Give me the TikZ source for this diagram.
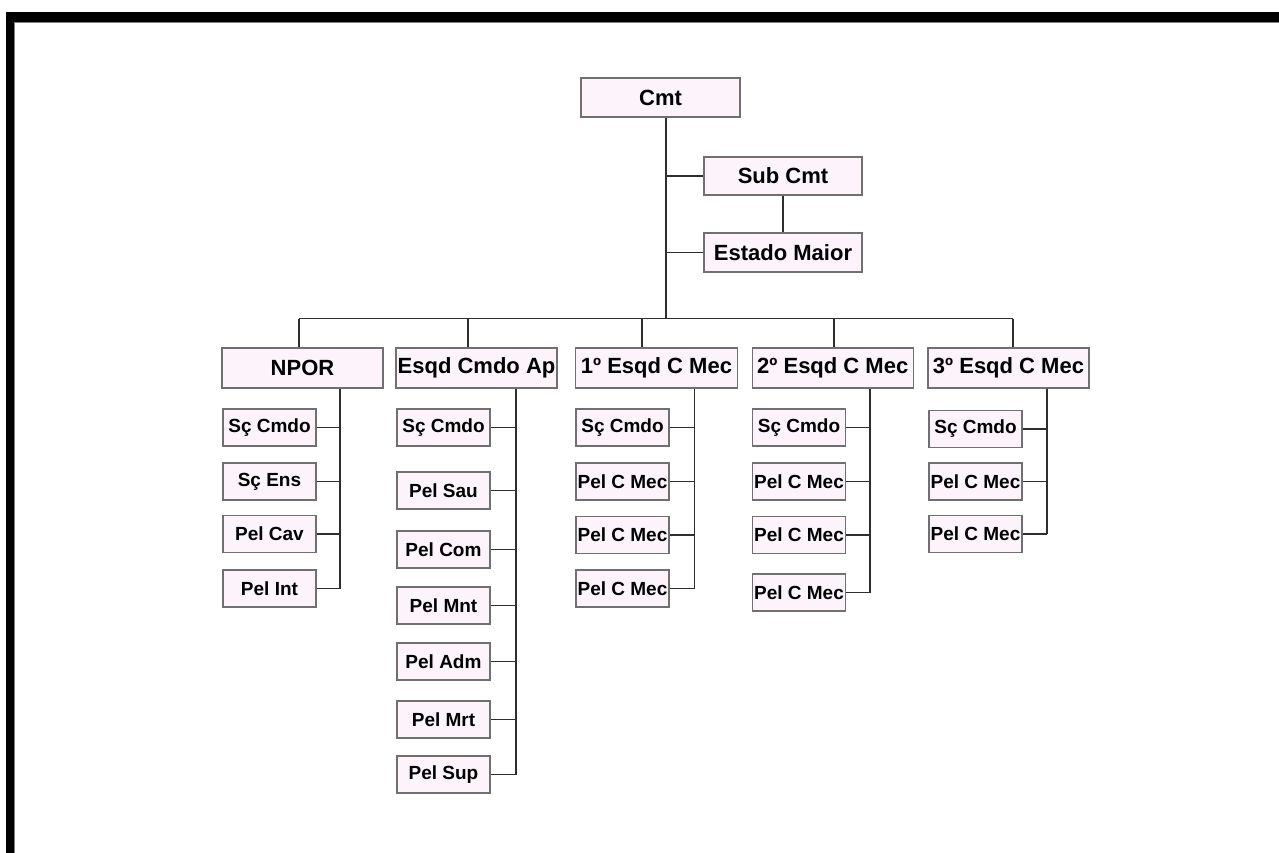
\documentclass[tikz,border=0pt]{standalone}
\usepackage{fontspec}
\setmainfont{Liberation Sans}
\definecolor{boxfill}{HTML}{FDF4FB}
\definecolor{boxline}{HTML}{707070}
\definecolor{linkcol}{HTML}{2E2E2E}
\tikzset{
  topbox/.style={draw=boxline, fill=boxfill, line width=1.3pt, minimum height=39pt,
    inner sep=0pt, font=\fontsize{22}{26}\selectfont\bfseries},
  subbox/.style={draw=boxline, fill=boxfill, line width=1.3pt, minimum width=93pt,
    minimum height=37pt, inner sep=0pt, font=\fontsize{19}{23}\selectfont\bfseries},
  link/.style={draw=linkcol, line width=1.4pt}
}
\begin{document}
\begin{tikzpicture}[x=1pt,y=-1pt]
\useasboundingbox (0,0) rectangle (1279,853);
% frame
\fill[black] (6,12) rectangle (1279,22);
\fill[black] (6,12) rectangle (14,853);
\draw[gray, line width=0.8pt] (14.5,853) -- (14.5,22.5) -- (1279,22.5);

% command
\node[topbox, minimum width=159pt] (cmt) at (660.5,97.5) {Cmt};
\node[topbox, minimum width=158pt, minimum height=38pt] (sub) at (783,176) {Sub Cmt};
\node[topbox, minimum width=158pt] (em) at (783,252.5) {Estado Maior};

% units
\node[topbox, minimum width=161pt, minimum height=40pt] (npor) at (302.5,368) {NPOR};
\node[topbox, minimum width=161pt, minimum height=40pt] (eca) at (476.5,368) {Esqd Cmdo Ap};
\node[topbox, minimum width=162pt, minimum height=40pt] (e1) at (656.5,368) {1º Esqd C Mec};
\node[topbox, minimum width=161pt, minimum height=40pt] (e2) at (832.75,368) {2º Esqd C Mec};
\node[topbox, minimum width=161pt, minimum height=40pt] (e3) at (1008.5,368) {3º Esqd C Mec};

% NPOR children
\node[subbox] (n1) at (269.5,427.5) {Sç Cmdo};
\node[subbox] (n2) at (269.5,481.5) {Sç Ens};
\node[subbox] (n3) at (269.5,534) {Pel Cav};
\node[subbox] (n4) at (269.5,588.5) {Pel Int};

% Esqd Cmdo Ap children
\node[subbox] (a1) at (443.5,427.5) {Sç Cmdo};
\node[subbox] (a2) at (443.5,490.5) {Pel Sau};
\node[subbox] (a3) at (443.5,549.5) {Pel Com};
\node[subbox] (a4) at (443.5,605.5) {Pel Mnt};
\node[subbox] (a5) at (443.5,661.5) {Pel Adm};
\node[subbox] (a6) at (443.5,719.5) {Pel Mrt};
\node[subbox] (a7) at (443.5,774.5) {Pel Sup};

% 1º children
\node[subbox] (p1) at (622.5,427.5) {Sç Cmdo};
\node[subbox] (p2) at (622.5,481.5) {Pel C Mec};
\node[subbox] (p3) at (622.5,535) {Pel C Mec};
\node[subbox] (p4) at (622.5,588.5) {Pel C Mec};

% 2º children
\node[subbox] (q1) at (799,427.5) {Sç Cmdo};
\node[subbox] (q2) at (799,481.5) {Pel C Mec};
\node[subbox] (q3) at (799,535) {Pel C Mec};
\node[subbox] (q4) at (799,592.5) {Pel C Mec};

% 3º children
\node[subbox] (r1) at (975.5,429) {Sç Cmdo};
\node[subbox] (r2) at (975.5,481.5) {Pel C Mec};
\node[subbox] (r3) at (975.5,534) {Pel C Mec};

% bus coordinates
\coordinate (tb) at (666,318.5);
\coordinate (b1) at (299,318.5);
\coordinate (b2) at (468,318.5);
\coordinate (b3) at (642,318.5);
\coordinate (b4) at (834,318.5);
\coordinate (b5) at (1013,318.5);
\coordinate (vn) at (340,0);
\coordinate (va) at (516,0);
\coordinate (vp) at (694.5,0);
\coordinate (vq) at (870,0);
\coordinate (vr) at (1047,0);

% connectors: command
\draw[link] (cmt.south -| tb) -- (tb);
\draw[link] (sub.west) -- (sub.west -| tb);
\draw[link] (em.west) -- (em.west -| tb);
\draw[link] (sub.south) -- (em.north);
\draw[link] (b1) -- (b5);
\draw[link] (b1) -- (b1 |- npor.north);
\draw[link] (b2) -- (b2 |- eca.north);
\draw[link] (b3) -- (b3 |- e1.north);
\draw[link] (b4) -- (b4 |- e2.north);
\draw[link] (b5) -- (b5 |- e3.north);

% NPOR
\draw[link] (npor.south -| vn) -- (n4.east -| vn);
\foreach \c in {n1,n2,n3,n4} \draw[link] (\c.east) -- (\c.east -| vn);
% Esqd Cmdo Ap
\draw[link] (eca.south -| va) -- (a7.east -| va);
\foreach \c in {a1,a2,a3,a4,a5,a6,a7} \draw[link] (\c.east) -- (\c.east -| va);
% 1º
\draw[link] (e1.south -| vp) -- (p4.east -| vp);
\foreach \c in {p1,p2,p3,p4} \draw[link] (\c.east) -- (\c.east -| vp);
% 2º
\draw[link] (e2.south -| vq) -- (q4.east -| vq);
\foreach \c in {q1,q2,q3,q4} \draw[link] (\c.east) -- (\c.east -| vq);
% 3º
\draw[link] (e3.south -| vr) -- (r3.east -| vr);
\foreach \c in {r1,r2,r3} \draw[link] (\c.east) -- (\c.east -| vr);
\end{tikzpicture}
\end{document}
